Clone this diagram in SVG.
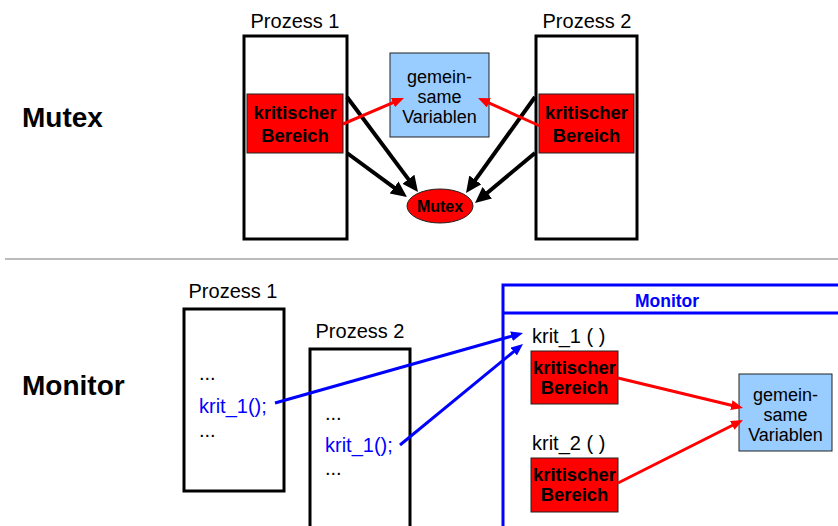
<svg xmlns="http://www.w3.org/2000/svg" width="838" height="526" viewBox="0 0 838 526">
  <style>
    text { font-family: "Liberation Sans", Arial, sans-serif; fill: #000; }
    .title { font-size: 28px; font-weight: bold; }
    .plabel { font-size: 20px; text-anchor: middle; }
    .code { font-size: 20px; }
    .blue { fill: #0000ff; }
    .crit-t { font-size: 18.4px; font-weight: bold; text-anchor: middle; }
    .var-t { font-size: 18px; text-anchor: middle; }
    .proc { fill: #fff; stroke: #000; stroke-width: 3; }
    .crit { fill: #ff0000; stroke: #222; stroke-width: 1; }
    .vars { fill: #99ccff; stroke: #222; stroke-width: 1; }
    .blk { stroke: #000; stroke-width: 4; fill: none; }
    .red { stroke: #ff0000; stroke-width: 3; fill: none; }
    .bl { stroke: #0000ff; stroke-width: 3; fill: none; }
  </style>
  <defs>
    <marker id="headBlack" markerUnits="userSpaceOnUse" markerWidth="17" markerHeight="16" refX="3" refY="7.5" orient="auto">
      <path d="M0,0 L16,7.5 L0,15 z" fill="#000"/>
    </marker>
    <marker id="headRed" markerUnits="userSpaceOnUse" markerWidth="13" markerHeight="12" refX="2" refY="5" orient="auto">
      <path d="M0,0 L12,5 L0,10 z" fill="#ff0000"/>
    </marker>
    <marker id="headBlue" markerUnits="userSpaceOnUse" markerWidth="13" markerHeight="12" refX="2" refY="5" orient="auto">
      <path d="M0,0 L12,5 L0,10 z" fill="#0000ff"/>
    </marker>
  </defs>

  <rect width="838" height="526" fill="#fff"/>

  <!-- section titles -->
  <text class="title" x="22" y="127">Mutex</text>
  <text class="title" x="22" y="395">Monitor</text>

  <!-- divider -->
  <line x1="5" y1="259" x2="838" y2="259" stroke="#bbbbbb" stroke-width="2"/>

  <!-- ===== Mutex section ===== -->
  <g id="mutex-p1">
    <text class="plabel" x="295" y="28">Prozess 1</text>
    <rect class="proc" x="244" y="36" width="103" height="203"/>
  </g>
  <g id="mutex-p2">
    <text class="plabel" x="587" y="28">Prozess 2</text>
    <rect class="proc" x="536" y="36" width="101" height="203"/>
  </g>
  <g id="mutex-crit1">
    <rect class="crit" x="247" y="94" width="96" height="59"/>
    <text class="crit-t" x="295" y="119">kritischer</text>
    <text class="crit-t" x="295" y="142">Bereich</text>
  </g>
  <g id="mutex-crit2">
    <rect class="crit" x="539" y="94" width="95" height="59"/>
    <text class="crit-t" x="586.5" y="119">kritischer</text>
    <text class="crit-t" x="586.5" y="142">Bereich</text>
  </g>
  <g id="mutex-vars">
    <rect class="vars" x="390" y="53" width="99" height="84"/>
    <text class="var-t" x="439.5" y="83">gemein-</text>
    <text class="var-t" x="439.5" y="103">same</text>
    <text class="var-t" x="439.5" y="123">Variablen</text>
  </g>
  <g id="mutex-lock">
    <ellipse cx="440" cy="206" rx="33" ry="17" fill="#ff0000" stroke="#222" stroke-width="1"/>
    <text x="440" y="212" font-size="16" font-weight="bold" text-anchor="middle">Mutex</text>
  </g>

  <!-- ===== Monitor section ===== -->
  <g id="monitor-p1">
    <text class="plabel" x="233" y="298">Prozess 1</text>
    <rect class="proc" x="184" y="309" width="100" height="182"/>
    <text class="code" x="199" y="380">...</text>
    <text class="code blue" x="199" y="413">krit_1();</text>
    <text class="code" x="199" y="437">...</text>
  </g>
  <g id="monitor-p2">
    <text class="plabel" x="360" y="338">Prozess 2</text>
    <rect class="proc" x="310" y="349" width="100" height="190"/>
    <text class="code" x="325" y="420">...</text>
    <text class="code blue" x="325" y="452">krit_1();</text>
    <text class="code" x="325" y="475">...</text>
  </g>
  <g id="monitor">
    <path d="M503,540 L503,285 L845,285 M503,313 L845,313" fill="none" stroke="#0000ff" stroke-width="3"/>
    <text x="667" y="307" font-size="17.5" font-weight="bold" text-anchor="middle" class="blue">Monitor</text>
    <text class="code" x="532" y="343">krit_1 ( )</text>
    <text class="code" x="532" y="450">krit_2 ( )</text>
  </g>
  <g id="monitor-crit1">
    <rect class="crit" x="531" y="351" width="87" height="53"/>
    <text class="crit-t" x="574.5" y="374">kritischer</text>
    <text class="crit-t" x="574.5" y="394">Bereich</text>
  </g>
  <g id="monitor-crit2">
    <rect class="crit" x="531" y="458" width="87" height="54"/>
    <text class="crit-t" x="574.5" y="481">kritischer</text>
    <text class="crit-t" x="574.5" y="501">Bereich</text>
  </g>
  <g id="monitor-vars">
    <rect class="vars" x="739" y="374" width="93" height="77"/>
    <text class="var-t" x="785.5" y="401">gemein-</text>
    <text class="var-t" x="785.5" y="421">same</text>
    <text class="var-t" x="785.5" y="441">Variablen</text>
  </g>

  <!-- connectors -->
  <g id="connectors">
    <line class="blk" x1="347" y1="97" x2="410.2" y2="181.6" marker-end="url(#headBlack)"/>
    <line class="blk" x1="347" y1="153" x2="396.5" y2="189.3" marker-end="url(#headBlack)"/>
    <line class="blk" x1="535" y1="97" x2="473.6" y2="182.4" marker-end="url(#headBlack)"/>
    <line class="blk" x1="535" y1="153" x2="485" y2="194.7" marker-end="url(#headBlack)"/>
    <line class="red" x1="343" y1="124" x2="394.8" y2="101.9" marker-end="url(#headRed)"/>
    <line class="red" x1="540" y1="126" x2="487.1" y2="102.1" marker-end="url(#headRed)"/>
    <line class="red" x1="618" y1="378" x2="733.3" y2="405.7" marker-end="url(#headRed)"/>
    <line class="red" x1="618" y1="483" x2="734.1" y2="424.5" marker-end="url(#headRed)"/>
    <line class="bl" x1="275" y1="403" x2="513.4" y2="335.7" marker-end="url(#headBlue)"/>
    <line class="bl" x1="400" y1="445" x2="515.3" y2="350.3" marker-end="url(#headBlue)"/>
  </g>
</svg>
